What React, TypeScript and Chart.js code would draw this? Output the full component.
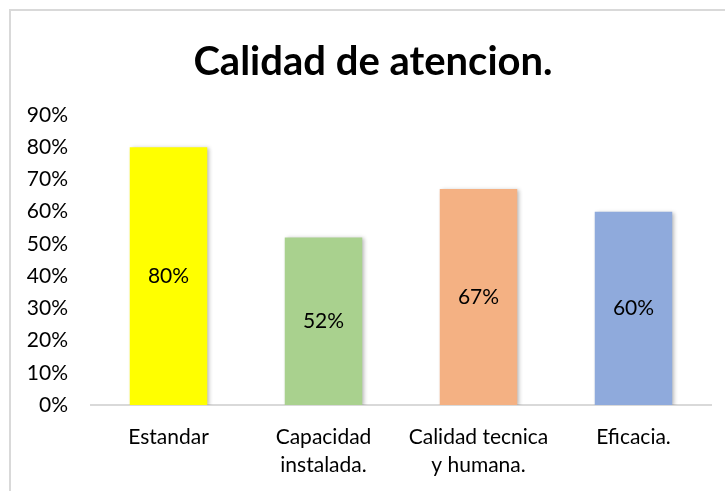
import React, { useEffect, useRef } from "react";
import { Chart, registerables } from "chart.js";

Chart.register(...registerables);

const categories: (string | string[])[] = [
  "Estandar",
  ["Capacidad", "instalada."],
  ["Calidad tecnica", "y humana."],
  "Eficacia.",
];
const values = [80, 52, 67, 60];
const barColors = ["#FFFF00", "#A9D18E", "#F4B183", "#8FAADC"];
const titleText = "Calidad de atencion.";
const yMax = 90;
const yStep = 10;

const FONT = "Lato, 'DejaVu Sans', sans-serif";

const shadowPlugin = {
  id: "barShadow",
  beforeDatasetDraw(chart: any) {
    const ctx = chart.ctx;
    ctx.save();
    ctx.shadowColor = "rgba(0,0,0,0.28)";
    ctx.shadowBlur = 4;
    ctx.shadowOffsetX = 2;
    ctx.shadowOffsetY = 1;
  },
  afterDatasetDraw(chart: any) {
    chart.ctx.restore();
  },
};

// centre the title block over the page rather than the padded area
const titleShiftPlugin = {
  id: "titleShift",
  afterLayout(chart: any) {
    if (chart.titleBlock) {
      chart.titleBlock.left = chart.titleBlock.left + 17;
    }
  },
};

const valueLabelPlugin = {
  id: "valueLabels",
  afterDatasetsDraw(chart: any) {
    const ctx = chart.ctx;
    const meta = chart.getDatasetMeta(0);
    const yScale = chart.scales.y;
    ctx.save();
    ctx.font = `21px ${FONT}`;
    ctx.fillStyle = "#000";
    ctx.textAlign = "center";
    ctx.textBaseline = "middle";
    meta.data.forEach((bar: any, i: number) => {
      const v = values[i];
      const y = yScale.getPixelForValue(v / 2);
      ctx.fillText(`${v}%`, bar.x, y);
    });
    ctx.restore();
  },
};

export default function App() {
  const ref = useRef<HTMLCanvasElement | null>(null);
  useEffect(() => {
    if (!ref.current) return;
    const chart = new Chart(ref.current, {
      type: "bar",
      data: {
        labels: categories,
        datasets: [
          {
            data: values,
            backgroundColor: barColors,
            borderWidth: 0,
            categoryPercentage: 1,
            barPercentage: 0.5,
          },
        ],
      },
      options: {
        animation: false,
        responsive: false,
        maintainAspectRatio: false,
        layout: { padding: { left: 18, right: 14, top: 0, bottom: 0 } },
        plugins: {
          legend: { display: false },
          tooltip: { enabled: false },
          title: {
            display: true,
            text: titleText,
            color: "#000",
            font: { family: FONT, size: 40, weight: "bold", lineHeight: 1.2 },
            padding: { top: 38, bottom: 29 },
          },
        },
        scales: {
          x: {
            grid: { display: false, drawTicks: false },
            border: { display: true, color: "#D9D9D9", width: 2 },
            ticks: {
              color: "#000",
              font: { family: FONT, size: 21, lineHeight: 1.33 },
              padding: 18,
              maxRotation: 0,
              autoSkip: false,
            },
            afterFit(scale: any) {
              scale.height = 86;
            },
          },
          y: {
            min: 0,
            max: yMax,
            grid: { display: false, drawTicks: false },
            border: { display: false },
            ticks: {
              stepSize: yStep,
              color: "#000",
              font: { family: FONT, size: 21 },
              padding: 23,
              callback: (v: any) => `${v}%`,
            },
            afterFit(scale: any) {
              scale.width = 73;
            },
          },
        },
      },
      plugins: [titleShiftPlugin, shadowPlugin, valueLabelPlugin],
    });
    return () => chart.destroy();
  }, []);

  return (
    <div
      style={{
        position: "fixed",
        left: 0,
        top: 0,
        width: 725,
        height: 491,
        overflow: "hidden",
        background: "#fff",
      }}
    >
      <div
        style={{
          position: "absolute",
          left: 9,
          top: 9,
          width: 800,
          height: 600,
          border: "2px solid #D9D9D9",
        }}
      />
      <canvas
        ref={ref}
        width={725}
        height={491}
        style={{ position: "absolute", left: 0, top: 0 }}
      />
    </div>
  );
}
